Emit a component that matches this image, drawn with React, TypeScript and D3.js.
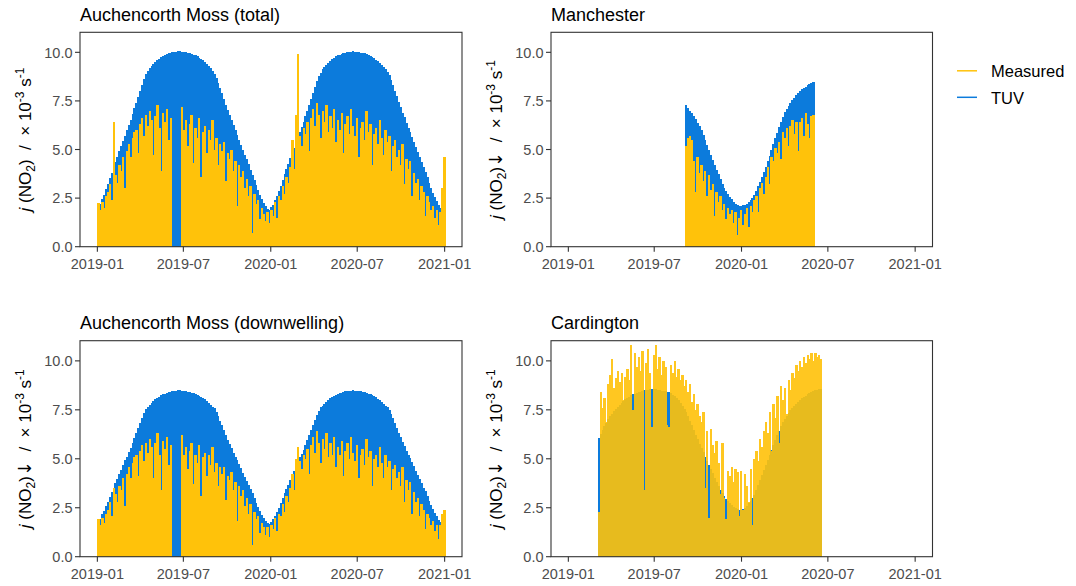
import React from 'react';
import * as d3 from 'd3';

const W = 1076;
const H = 586;
const YELLOW = '#FFC20A';
const BLUE = '#0C7BDC';
const FONT = "'Liberation Sans', Arial, Helvetica, sans-serif";
const DAY = 86400000;
const utc = (y: number, m: number, d: number) => new Date(Date.UTC(y, m - 1, d));

// every value below is a 4-day bin starting at the site's start date
const BIN_DAYS = 4;
const auchStart = utc(2019, 1, 1);
const manStart = utc(2019, 9, 4);
const cardStart = utc(2019, 3, 4);

const auchTotalTuv = [
  2.05, 2.22, 2.45, 2.67, 2.95, 3.23, 3.51, 3.81, 4.09, 4.37,
  4.63, 4.91, 5.18, 5.46, 5.72, 6.0, 6.28, 6.54, 6.82, 7.11,
  7.41, 7.7, 8.03, 8.33, 8.61, 8.86, 9.03, 9.19, 9.3, 9.42,
  9.51, 9.61, 9.68, 9.75, 9.81, 9.86, 9.9, 9.94, 9.98, 10.0,
  10.02, 10.04, 10.05, 10.05, 10.04, 10.03, 10.0, 9.98, 9.95, 9.92,
  9.88, 9.84, 9.8, 9.73, 9.67, 9.59, 9.51, 9.42, 9.31, 9.2,
  9.06, 8.91, 8.69, 8.44, 8.18, 7.89, 7.59, 7.3, 7.03, 6.77,
  6.52, 6.26, 6.01, 5.75, 5.5, 5.24, 4.99, 4.74, 4.49, 4.24,
  3.97, 3.71, 3.43, 3.17, 2.91, 2.66, 2.44, 2.23, 2.07, 1.95,
  1.87, 2.02, 2.16, 2.38, 2.61, 2.88, 3.14, 3.43, 3.72, 4.01,
  4.28, 4.55, 4.82, 5.09, 5.36, 5.64, 5.9, 6.18, 6.44, 6.72,
  7.0, 7.29, 7.59, 7.9, 8.22, 8.5, 8.77, 8.96, 9.12, 9.26,
  9.37, 9.47, 9.57, 9.65, 9.72, 9.8, 9.84, 9.88, 9.92, 9.96,
  9.99, 10.01, 10.03, 10.04, 10.05, 10.04, 10.03, 10.02, 9.99, 9.97,
  9.94, 9.9, 9.86, 9.82, 9.76, 9.7, 9.63, 9.55, 9.47, 9.37,
  9.26, 9.13, 8.98, 8.83, 8.57, 8.32, 8.03, 7.73, 7.45, 7.17,
  6.9, 6.65, 6.38, 6.13, 5.88, 5.63, 5.38, 5.12, 4.86, 4.61,
  4.36, 4.1, 3.85, 3.58, 3.29, 3.03, 2.78, 2.55, 2.34, 2.14,
  2.0, 1.88, 1.95,
];

const auchTotalMeasured: (number | null)[] = [
  2.25, 1.9, 2.3, 2.0, 2.6, 2.8, 3.2, 2.4, 6.4, 3.7,
  3.3, 4.2, 3.9, 4.6, 3.0, 4.9, 5.3, 4.6, 5.6, 5.9,
  6.0, 4.8, 6.3, 6.6, 5.7, 6.8, 6.2, 7.0, 6.5, 4.7,
  6.7, 7.3, 6.1, 3.9, 6.9, 6.4, 7.1, 5.5, 6.6, null,
  null, null, null, null, 7.2, 6.0, 6.5, 5.2, 6.3, 6.8,
  4.3, 6.1, 5.6, 6.6, 3.6, 5.9, 6.2, 4.8, 6.0, 5.5,
  6.5, 5.0, 5.6, 4.2, 5.3, 4.9, 5.4, 3.4, 4.8, 4.5,
  5.0, 3.9, 4.4, 2.1, 4.2, 3.6, 3.9, 3.0, 3.5, 2.6,
  3.1, 0.7, 2.7, 2.2, 2.4, 1.4, 2.0, 1.7, 1.3, 1.8,
  1.2, 1.9, 1.6, 2.3, 1.5, 2.6, 2.4, 3.1, 2.7, 3.6,
  3.3, 4.1, 5.5, 4.0, 6.8, 9.9, 5.7, 5.2, 6.1, 5.8,
  6.4, 4.9, 6.6, 7.1, 6.2, 7.4, 6.8, 5.6, 7.0, 6.4,
  7.3, 5.9, 6.7, 6.1, 7.1, 5.4, 6.5, 6.0, 6.9, 4.8,
  6.3, 6.7, 5.8, 7.1, 6.2, 5.7, 6.6, 4.6, 6.1, 6.4,
  5.5, 7.0, 5.9, 6.3, 4.2, 5.8, 6.1, 5.3, 6.5, 5.6,
  4.7, 6.0, 5.4, 5.7, 3.9, 5.2, 5.5, 4.6, 5.0, 4.2,
  5.3, 3.2, 4.5, 4.0, 4.4, 2.6, 3.8, 3.3, 3.5, 2.4,
  3.1, 2.8, 1.6, 2.6, 2.3, 1.9, 2.1, 1.5, 1.9, 1.1,
  1.8, 3.0, 4.6,
];

const auchDownTuv = [
  1.8, 1.95, 2.16, 2.32, 2.57, 2.81, 3.05, 3.31, 3.52, 3.76,
  3.98, 4.22, 4.45, 4.7, 4.92, 5.1, 5.34, 5.56, 5.8, 6.04,
  6.3, 6.55, 6.83, 7.08, 7.32, 7.53, 7.63, 7.77, 7.86, 7.96,
  8.04, 8.12, 8.18, 8.24, 8.29, 8.33, 8.37, 8.4, 8.43, 8.45,
  8.47, 8.48, 8.49, 8.49, 8.48, 8.48, 8.45, 8.43, 8.41, 8.38,
  8.35, 8.31, 8.28, 8.22, 8.17, 8.1, 8.04, 7.96, 7.87, 7.77,
  7.66, 7.57, 7.39, 7.17, 6.95, 6.71, 6.45, 6.21, 5.98, 5.75,
  5.54, 5.32, 5.11, 4.95, 4.73, 4.51, 4.29, 4.08, 3.86, 3.65,
  3.45, 3.23, 2.98, 2.76, 2.53, 2.31, 2.15, 1.96, 1.82, 1.72,
  1.65, 1.78, 1.9, 2.09, 2.27, 2.51, 2.73, 2.98, 3.24, 3.45,
  3.68, 3.91, 4.15, 4.38, 4.61, 4.85, 5.07, 5.25, 5.47, 5.71,
  5.95, 6.2, 6.45, 6.72, 6.99, 7.23, 7.45, 7.62, 7.71, 7.82,
  7.92, 8.0, 8.09, 8.15, 8.21, 8.28, 8.31, 8.35, 8.38, 8.42,
  8.44, 8.46, 8.48, 8.48, 8.49, 8.48, 8.48, 8.47, 8.44, 8.42,
  8.4, 8.37, 8.33, 8.3, 8.25, 8.2, 8.14, 8.07, 8.0, 7.92,
  7.82, 7.71, 7.63, 7.51, 7.28, 7.07, 6.83, 6.57, 6.33, 6.09,
  5.87, 5.65, 5.42, 5.21, 5.06, 4.84, 4.63, 4.4, 4.18, 3.96,
  3.75, 3.53, 3.35, 3.11, 2.86, 2.64, 2.42, 2.22, 2.06, 1.88,
  1.76, 1.65, 1.72,
];

const auchDownMeasured: (number | null)[] = [
  1.9, 1.6, 2.0, 1.7, 2.2, 2.4, 2.8, 2.1, 3.5, 3.2,
  2.8, 3.6, 3.4, 4.0, 2.6, 4.2, 4.6, 4.0, 4.8, 5.1,
  5.2, 4.1, 5.4, 5.7, 4.9, 5.8, 5.3, 6.0, 5.6, 4.0,
  5.8, 6.3, 5.2, 3.4, 5.9, 5.5, 6.1, 4.7, 5.7, null,
  null, null, null, null, 6.2, 5.2, 5.6, 4.5, 5.4, 5.8,
  3.7, 5.2, 4.8, 5.7, 3.1, 5.1, 5.3, 4.1, 5.2, 4.7,
  5.6, 4.3, 4.8, 3.6, 4.6, 4.2, 4.6, 2.9, 4.1, 3.9,
  4.3, 3.4, 3.8, 1.8, 3.6, 3.1, 3.4, 2.6, 3.0, 2.2,
  2.7, 0.6, 2.3, 1.9, 2.1, 1.2, 1.7, 1.5, 1.1, 1.5,
  1.0, 1.6, 1.4, 2.0, 1.3, 2.2, 2.1, 2.7, 2.3, 3.1,
  2.8, 3.5, 4.2, 3.4, 5.0, 5.6, 4.9, 4.5, 5.2, 5.0,
  5.5, 4.2, 5.7, 6.1, 5.3, 6.4, 5.8, 4.8, 6.0, 5.5,
  6.3, 5.1, 5.8, 5.2, 6.1, 4.6, 5.6, 5.2, 5.9, 4.1,
  5.4, 5.8, 5.0, 6.1, 5.3, 4.9, 5.7, 4.0, 5.2, 5.5,
  4.7, 6.0, 5.1, 5.4, 3.6, 5.0, 5.2, 4.6, 5.6, 4.8,
  4.0, 5.2, 4.6, 4.9, 3.4, 4.5, 4.7, 4.0, 4.3, 3.6,
  4.6, 2.8, 3.9, 3.4, 3.8, 2.2, 3.3, 2.8, 3.0, 2.1,
  2.7, 2.4, 1.4, 2.2, 2.0, 1.6, 1.8, 1.3, 1.6, 0.9,
  1.6, 2.2, 2.4,
];

const manTuv = [
  7.28, 7.15, 7.0, 6.87, 6.72, 6.55, 6.37, 6.2, 5.98, 5.73,
  5.48, 5.22, 4.97, 4.72, 4.47, 4.22, 3.97, 3.72, 3.47, 3.22,
  3.02, 2.87, 2.72, 2.57, 2.44, 2.32, 2.2, 2.12, 2.07, 2.07,
  2.12, 2.16, 2.22, 2.32, 2.42, 2.52, 2.66, 2.88, 3.1, 3.33,
  3.57, 3.84, 4.12, 4.4, 4.68, 4.97, 5.26, 5.57, 5.87, 6.14,
  6.42, 6.69, 6.94, 7.08, 7.23, 7.38, 7.53, 7.66, 7.78, 7.91,
  8.02, 8.09, 8.17, 8.24, 8.31, 8.37, 8.42, 8.47,
];

const manMeasured = [
  5.2, 5.6, 5.7, 5.5, 4.4, 2.8, 4.6, 3.8, 4.2, 3.4,
  3.9, 2.6, 3.7, 2.9, 3.2, 1.6, 2.8, 2.3, 2.6, 1.9,
  2.2, 1.4, 2.0, 1.7, 1.9, 1.2, 1.8, 0.6, 1.5, 1.9,
  1.1, 1.7, 2.0, 1.0, 2.1, 1.8, 2.4, 2.6, 1.8, 3.0,
  3.3, 2.7, 3.6, 4.1, 3.2, 4.6, 4.4, 5.1, 4.8, 5.4,
  4.5, 5.9, 5.6, 6.1, 5.2, 6.2, 6.5, 5.8, 6.4, 4.9,
  6.4, 6.6, 5.7, 6.9, 6.3, 5.6, 6.7, 6.8,
];

const cardTuv = [
  6.05, 6.25, 6.45, 6.65, 6.85, 7.05, 7.18, 7.3, 7.42, 7.53,
  7.65, 7.76, 7.87, 7.97, 8.05, 8.12, 8.18, 8.24, 8.29, 8.33,
  8.37, 8.4, 8.43, 8.46, 8.49, 8.51, 8.53, 8.55, 8.55, 8.55,
  8.54, 8.52, 8.5, 8.48, 8.46, 8.44, 8.42, 8.4, 8.35, 8.28,
  8.2, 8.1, 7.98, 7.85, 7.71, 7.56, 7.38, 7.17, 6.95, 6.72,
  6.48, 6.24, 6.0, 5.77, 5.54, 5.33, 5.11, 4.9, 4.68, 4.47,
  4.25, 4.04, 3.83, 3.62, 3.43, 3.25, 3.1, 2.96, 2.84, 2.73,
  2.64, 2.55, 2.48, 2.43, 2.4, 2.4, 2.43, 2.5, 2.6, 2.72,
  2.86, 3.0, 3.16, 3.4, 3.66, 3.92, 4.18, 4.45, 4.7, 4.95,
  5.2, 5.45, 5.7, 5.95, 6.19, 6.43, 6.66, 6.87, 7.05, 7.2,
  7.34, 7.47, 7.6, 7.71, 7.82, 7.92, 8.01, 8.09, 8.16, 8.23,
  8.29, 8.35, 8.4, 8.45, 8.49, 8.52, 8.54, 8.55,
];

const cardMeasured = [
  2.3, 8.4, 7.6, 8.1, 6.9, 8.8, 9.3, 10.1, 8.6, 9.1,
  9.5, 8.9, 9.4, 8.0, 9.2, 9.6, 9.0, 10.8, 7.5, 10.4,
  9.7, 10.2, 9.5, 10.5, 3.4, 9.9, 10.6, 9.4, 6.6, 10.3,
  10.8, 9.6, 10.2, 9.3, 10.0, 9.7, 6.7, 6.6, 9.8, 9.4,
  10.0, 9.2, 9.6, 9.0, 9.3, 8.7, 9.0, 8.4, 8.8, 7.9,
  8.3, 7.5, 7.8, 7.2, 6.9, 7.4, 3.5, 6.4, 2.0, 6.5,
  5.7, 5.3, 5.9, 4.8, 3.2, 5.8, 3.0, 1.95, 4.4, 4.1,
  4.6, 3.8, 4.5, 4.3, 2.1, 4.4, 2.4, 4.2, 3.6, 2.8,
  4.5, 1.6, 5.0, 5.4, 4.9, 6.0, 5.6, 6.4, 6.9, 6.3,
  7.4, 5.4, 7.8, 7.1, 8.2, 5.8, 8.7, 8.0, 8.6, 7.3,
  9.0, 8.5, 9.4, 9.1, 9.8, 9.5, 10.0, 9.7, 10.2, 9.9,
  10.3, 10.1, 10.4, 10.0, 10.4, 10.2, 10.3, 10.1,
];

const yTicks = [0, 2.5, 5, 7.5, 10];
const xTicks = [utc(2019, 1, 1), utc(2019, 7, 1), utc(2020, 1, 1), utc(2020, 7, 1), utc(2021, 1, 1)];
const legendItems = [
  { label: 'Measured', color: YELLOW },
  { label: 'TUV', color: BLUE },
];

const Y_MAX = 11.03;
const X_PAD_DAYS = 36.55;

type PanelSpec = {
  title: string;
  left: number;
  right: number;
  top: number;
  bottom: number;
  start: Date;
  tuv: (number | null)[];
  meas: (number | null)[];
  measOpacity: number;
  arrow: boolean;
};

const panels: PanelSpec[] = [
  { title: 'Auchencorth Moss (total)', left: 80, right: 462, top: 32.3, bottom: 246.7,
    start: auchStart, tuv: auchTotalTuv, meas: auchTotalMeasured, measOpacity: 1, arrow: false },
  { title: 'Manchester', left: 551, right: 932.5, top: 32.3, bottom: 246.7,
    start: manStart, tuv: manTuv, meas: manMeasured, measOpacity: 1, arrow: true },
  { title: 'Auchencorth Moss (downwelling)', left: 80, right: 462, top: 340.7, bottom: 556.7,
    start: auchStart, tuv: auchDownTuv, meas: auchDownMeasured, measOpacity: 1, arrow: true },
  { title: 'Cardington', left: 551, right: 932.5, top: 340.7, bottom: 556.7,
    start: cardStart, tuv: cardTuv, meas: cardMeasured, measOpacity: 0.9, arrow: true },
];

const fmtDate = d3.utcFormat('%Y-%m');
const fmtY = d3.format('.1f');

function Bars({ values, start, x, y, color }: {
  values: (number | null)[]; start: Date; x: d3.ScaleTime<number, number>;
  y: d3.ScaleLinear<number, number>; color: string;
}) {
  return (
    <>
      {values.map((v, i) => {
        if (v == null) return null;
        const t0 = new Date(+start + i * BIN_DAYS * DAY);
        const t1 = new Date(+start + (i + 1) * BIN_DAYS * DAY);
        const x0 = x(t0);
        const x1 = x(t1);
        return (
          <rect key={i} x={x0} y={y(v)} width={x1 - x0 + 0.5} height={y(0) - y(v)} fill={color} />
        );
      })}
    </>
  );
}

function Panel({ p }: { p: PanelSpec }) {
  const x = d3.scaleUtc()
    .domain([new Date(+utc(2019, 1, 1) - X_PAD_DAYS * DAY), new Date(+utc(2021, 1, 1) + X_PAD_DAYS * DAY)])
    .range([p.left, p.right]);
  const y = d3.scaleLinear().domain([0, Y_MAX]).range([p.bottom, p.top]);
  const midY = (p.top + p.bottom) / 2;
  return (
    <g>
      <text x={p.left} y={p.top - 11.5} fontSize={18} fill="#000">{p.title}</text>
      <g shapeRendering="crispEdges">
        <Bars values={p.tuv} start={p.start} x={x} y={y} color={BLUE} />
      </g>
      <g opacity={p.measOpacity} shapeRendering="crispEdges">
        <Bars values={p.meas} start={p.start} x={x} y={y} color={YELLOW} />
      </g>
      <rect x={p.left} y={p.top} width={p.right - p.left} height={p.bottom - p.top}
        fill="none" stroke="#333333" strokeWidth={1.1} />
      {yTicks.map((t) => (
        <g key={t}>
          <line x1={p.left - 5} x2={p.left} y1={y(t)} y2={y(t)} stroke="#333333" strokeWidth={1.1} />
          <text x={p.left - 7.5} y={y(t)} dy="0.36em" textAnchor="end" fontSize={14.5} fill="#4D4D4D">
            {fmtY(t)}
          </text>
        </g>
      ))}
      {xTicks.map((t) => (
        <g key={+t}>
          <line x1={x(t)} x2={x(t)} y1={p.bottom} y2={p.bottom + 5} stroke="#333333" strokeWidth={1.1} />
          <text x={x(t)} y={p.bottom + 22.6} textAnchor="middle" fontSize={14.5} fill="#4D4D4D">
            {fmtDate(t)}
          </text>
        </g>
      ))}
      <text transform={`translate(${p.left - 49},${midY}) rotate(-90)`} textAnchor="middle" fontSize={17} fill="#000">
        <tspan fontStyle="italic">j</tspan>
        <tspan>{' (NO'}</tspan>
        <tspan fontSize={12} dy={4}>2</tspan>
        <tspan dy={-4}>)</tspan>
        {p.arrow ? <tspan fontFamily="'DejaVu Sans', sans-serif" fontSize={18}>{'\u2193'}</tspan> : null}
        <tspan>{'\u00a0 /\u00a0 \u00d7 10'}</tspan>
        <tspan fontSize={12} dy={-7}>-3</tspan>
        <tspan dy={7}>{' s'}</tspan>
        <tspan fontSize={12} dy={-7}>-1</tspan>
      </text>
    </g>
  );
}

export default function App() {
  return (
    <svg width={W} height={H} viewBox={`0 0 ${W} ${H}`}
      style={{ position: 'absolute', left: 0, top: 0, background: '#fff' }}
      fontFamily={FONT}>
      <rect x={0} y={0} width={W} height={H} fill="#fff" />
      {panels.map((p) => <Panel key={p.title} p={p} />)}
      {legendItems.map((item, i) => (
        <g key={item.label} transform={`translate(0,${i * 26.5})`}>
          <line x1={957} x2={977} y1={70.8} y2={70.8} stroke={item.color} strokeWidth={1.5} />
          <text x={991} y={77} fontSize={16.5} fill="#000">{item.label}</text>
        </g>
      ))}
    </svg>
  );
}
